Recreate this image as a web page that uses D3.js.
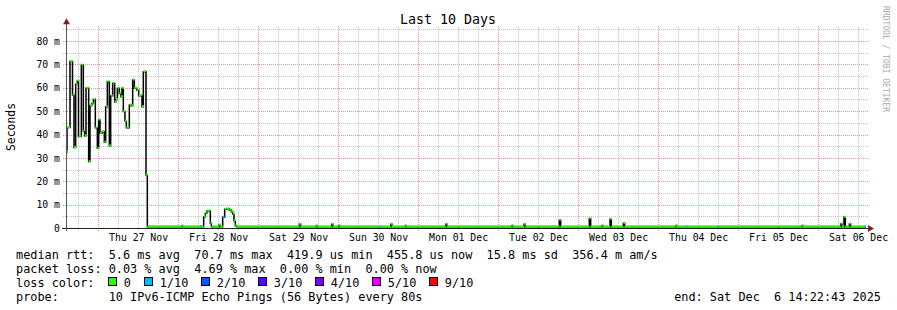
<!DOCTYPE html>
<html>
<head>
<meta charset="utf-8">
<script src="https://cdn.jsdelivr.net/npm/d3@7"></script>
<style>
  body { margin: 0; background: #fff; }
  svg { display: block; font-family: "DejaVu Sans Mono", monospace; }
  text { white-space: pre; }
</style>
</head>
<body>
<div class="chart"></div>
<script>
// time window: last 10 days, ending at the probe's last update
const endTime = new Date(2025, 11, 6, 14, 22, 43)
const spanHours = 240

// median rtt samples: hours since start of window, value in ms, loss in tenths
const sampleHours = [
    0.0, 0.3, 1.2, 1.95, 2.4, 2.9, 3.4, 3.75, 4.6, 5.2, 5.6, 6.0, 6.8, 7.2, 7.7, 8.2,
    8.8, 9.4, 9.8, 10.2, 10.8, 11.5, 11.9, 12.4, 13.0, 13.4, 14.0, 14.6, 15.0, 15.4,
    16.0, 16.5, 16.8, 17.2, 17.7, 18.1, 19.0, 19.6, 20.0, 20.5, 21.2, 21.8, 22.8,
    23.2, 24.0, 24.4,
    34.7, 35.0, 40.2, 40.6, 41.3, 41.8, 42.3, 43.3, 43.6, 45.9, 46.3, 47.0, 47.6,
    48.2, 49.0, 49.6, 50.0, 50.4, 50.8, 51.2,
    70.0, 70.4, 75.0, 75.4, 79.7, 80.1, 81.7, 82.1, 94.2, 94.6, 97.4, 97.8,
    101.7, 102.1, 113.9, 114.3, 133.7, 134.1, 137.4, 137.8, 148.0, 148.4,
    157.0, 157.4, 160.7, 161.1, 163.2, 163.6, 167.2, 167.6, 182.9, 183.3,
    186.0, 186.4, 195.5, 195.9, 220.7, 221.1, 232.4, 232.8, 233.4, 233.8,
    235.0, 235.4, 239.4
]
const medianMs = [
    32.5, 43.0, 71.2, 56.9, 34.4, 61.5, 62.9, 39.1, 69.7, 41.5, 39.5, 59.8, 28.4, 52.3, 53.3, 55.0,
    42.9, 34.1, 46.2, 40.5, 41.2, 36.7, 51.9, 62.6, 35.2, 56.6, 61.9, 54.0, 55.0, 59.8,
    57.6, 56.2, 59.8, 49.8, 45.8, 42.9, 52.6, 52.3, 63.3, 59.8, 59.0, 56.6, 51.9,
    66.9, 22.7, 0.5,
    0.9, 0.5, 0.6, 0.5, 4.8, 6.3, 7.3, 2.0, 0.5, 1.3, 0.5, 4.6, 8.0,
    8.2, 7.7, 7.0, 6.0, 3.1, 1.0, 0.5,
    1.6, 0.5, 1.0, 0.5, 1.6, 0.5, 1.0, 0.5, 0.5, 0.5, 1.6, 0.5,
    1.0, 0.5, 1.6, 0.5, 1.0, 0.5, 1.6, 0.5, 3.3, 0.5,
    4.0, 0.5, 1.0, 0.5, 3.7, 0.5, 2.0, 0.5, 1.0, 0.5,
    0.5, 0.5, 0.5, 0.5, 1.0, 0.5, 1.7, 0.5, 4.6, 0.5,
    1.7, 0.5, 0.5
]
const lossTenths = [
    0, 0, 0, 0, 0, 0, 0, 0, 0, 0, 0, 0, 0, 0, 0, 0,
    0, 0, 0, 0, 0, 0, 0, 0, 0, 0, 0, 0, 0, 0,
    0, 0, 0, 0, 0, 0, 0, 0, 0, 0, 0, 0, 0,
    0, 0, 0,
    0, 0, 1, 0, 0, 0, 0, 0, 0, 0, 0, 1, 0,
    0, 0, 0, 0, 0, 0, 0,
    0, 0, 0, 0, 0, 0, 0, 0, 1, 0, 0, 0,
    0, 0, 0, 0, 0, 0, 0, 0, 0, 0,
    0, 0, 0, 0, 0, 0, 0, 0, 0, 0,
    1, 0, 1, 0, 0, 0, 0, 0, 0, 0,
    0, 0, 1
]

const yTicks = [0, 10, 20, 30, 40, 50, 60, 70, 80]
const rttStats = ['5.6 ms avg', '70.7 ms max', '419.9 us min', '455.8 us now', '15.8 ms sd', '356.4 m am/s']
const lossStats = ['0.03 % avg', '4.69 % max', '0.00 % min', '0.00 % now']
const lossLevels = [0, 1, 2, 3, 4, 5, 9]
const lossLabels = ['0', '1/10', '2/10', '3/10', '4/10', '5/10', '9/10']
const lossColors = ['#26ff00', '#00b8ff', '#0059ff', '#5e00ff', '#7e00ff', '#dd00ff', '#ff0000']
const probeText = '10 IPv6-ICMP Echo Pings (56 Bytes) every 80s'
const endText = 'end: Sat Dec  6 14:22:43 2025'

const width = 897, height = 310
const plot = {left: 66, right: 866, bottom: 228, top: 26.3}
const legendFont = 11.85, charW = 7.1

const startTime = new Date(+endTime - spanHours * 3600e3)
const hourToDate = h => new Date(+startTime + h * 3600e3)
const lossColor = d3.scaleOrdinal().domain(lossLevels).range(lossColors)
const px = v => Math.round(v) + 0.5

const svg = d3.select('.chart')
    .append('svg')
    .attr('width', width)
    .attr('height', height)

svg.append('rect')
    .attr('width', width)
    .attr('height', height)
    .attr('fill', '#fff')

const x = d3.scaleTime()
    .domain([startTime, endTime])
    .range([plot.left, plot.right])
const y = d3.scaleLinear()
    .domain([0, 86.3])
    .range([plot.bottom, plot.top])

// grid, rrdtool style: grey dotted minor, red dotted major
const grid = svg.append('g')
    .attr('shape-rendering', 'crispEdges')
    .attr('stroke-dasharray', '1,1')
    .attr('fill', 'none')

const minorY = d3.range(5, y.domain()[1], 10)
grid.selectAll('.ymin').data(minorY).join('line')
    .attr('x1', plot.left - 3).attr('x2', plot.right + 2)
    .attr('y1', d => px(y(d))).attr('y2', d => px(y(d)))
    .attr('stroke', '#c4c4c4')

const hourTicks = x.ticks(d3.timeHour.every(6))
grid.selectAll('.xmin').data(hourTicks.filter(d => d.getHours() !== 0)).join('line')
    .attr('x1', d => px(x(d))).attr('x2', d => px(x(d)))
    .attr('y1', plot.bottom + 2).attr('y2', plot.top)
    .attr('stroke', '#c4c4c4')

grid.selectAll('.ymaj').data(yTicks.slice(1)).join('line')
    .attr('x1', plot.left - 3).attr('x2', plot.right + 2)
    .attr('y1', d => px(y(d))).attr('y2', d => px(y(d)))
    .attr('stroke', '#f09696')

const dayTicks = x.ticks(d3.timeDay.every(1))
grid.selectAll('.xmaj').data(dayTicks).join('line')
    .attr('x1', d => px(x(d))).attr('x2', d => px(x(d)))
    .attr('y1', plot.bottom + 3).attr('y2', plot.top)
    .attr('stroke', '#f09696')

// median line: black steps, coloured marks by loss
const pts = sampleHours.map((h, i) => ({t: hourToDate(h), v: medianMs[i], loss: lossTenths[i]}))
const stepLine = d3.line()
    .x(d => x(d.t))
    .y(d => y(d.v))
    .curve(d3.curveStepAfter)

svg.append('path')
    .attr('d', stepLine([...pts, {t: endTime, v: pts[pts.length - 1].v}]))
    .attr('fill', 'none')
    .attr('stroke', '#000')
    .attr('stroke-width', 1.5)

svg.append('g')
    .selectAll('line')
    .data(pts)
    .join('line')
        .attr('x1', d => x(d.t))
        .attr('x2', (d, i) => {
            const x2 = x(i < pts.length - 1 ? pts[i + 1].t : endTime)
            return Math.max(x2, x(d.t) + 2)
        })
        .attr('y1', d => y(d.v) - 0.5)
        .attr('y2', d => y(d.v) - 0.5)
        .attr('stroke', d => lossColor(d.loss))
        .attr('stroke-width', 2)

// axes
const axes = svg.append('g').attr('shape-rendering', 'crispEdges')
axes.append('line')
    .attr('x1', plot.left - 4).attr('x2', plot.right + 2)
    .attr('y1', px(plot.bottom)).attr('y2', px(plot.bottom))
    .attr('stroke', '#222')
axes.append('line')
    .attr('x1', px(plot.left)).attr('x2', px(plot.left))
    .attr('y1', plot.bottom + 3).attr('y2', plot.top - 2)
    .attr('stroke', '#555')

svg.append('path')
    .attr('d', `M${plot.right + 2},${plot.bottom - 3}L${plot.right + 8},${plot.bottom + 0.5}L${plot.right + 2},${plot.bottom + 4}Z`)
    .attr('fill', '#8b1c1c')
svg.append('path')
    .attr('d', `M${plot.left - 3},${plot.top - 2}L${plot.left + 0.5},${plot.top - 8}L${plot.left + 4},${plot.top - 2}Z`)
    .attr('fill', '#8b1c1c')

const yAxis = d3.axisLeft(y)
    .tickValues(yTicks)
    .tickSize(0)
    .tickPadding(6)
    .tickFormat(d => d === 0 ? '0' : d + ' m')
svg.append('g')
    .attr('transform', `translate(${plot.left}, 0)`)
    .call(yAxis)
    .call(g => g.select('.domain').remove())
    .call(g => g.selectAll('text').attr('font-family', '"DejaVu Sans Mono", monospace').attr('font-size', 9.8).attr('fill', '#000'))

const noonTicks = dayTicks.map(d => d3.timeHour.offset(d, 12)).filter(d => d <= endTime)
const xAxis = d3.axisBottom(x)
    .tickValues(noonTicks)
    .tickSize(0)
    .tickPadding(6)
    .tickFormat(d3.timeFormat('%a %d %b'))
svg.append('g')
    .attr('transform', `translate(0, ${plot.bottom})`)
    .call(xAxis)
    .call(g => g.select('.domain').remove())
    .call(g => g.selectAll('text').attr('font-family', '"DejaVu Sans Mono", monospace').attr('font-size', 9.8).attr('fill', '#000'))

// titles
svg.append('text')
    .attr('x', 448).attr('y', 24)
    .attr('text-anchor', 'middle')
    .attr('font-size', 13.3)
    .text('Last 10 Days')

svg.append('text')
    .attr('transform', 'translate(15, 127) rotate(-90)')
    .attr('text-anchor', 'middle')
    .attr('font-size', 11.4)
    .text('Seconds')

svg.append('text')
    .attr('transform', 'translate(883, 59) rotate(90)')
    .attr('text-anchor', 'middle')
    .attr('font-size', 8)
    .attr('fill', '#aaa')
    .text('RRDTOOL / TOBI OETIKER')

// legend
const legend = svg.append('g').attr('font-size', legendFont)
legend.append('text').attr('x', 16).attr('y', 259)
    .text('median rtt:  ' + rttStats.join('  '))
legend.append('text').attr('x', 16).attr('y', 272.5)
    .text('packet loss: ' + lossStats.join('  '))
legend.append('text').attr('x', 16).attr('y', 286.5)
    .text('loss color:')

let lx = 16 + 13 * charW
lossLabels.forEach((label, i) => {
    legend.append('rect')
        .attr('x', Math.round(lx) + 0.5).attr('y', 277.5)
        .attr('width', 8).attr('height', 8)
        .attr('fill', lossColors[i])
        .attr('stroke', '#000')
        .attr('shape-rendering', 'crispEdges')
    legend.append('text').attr('x', lx + 15.5).attr('y', 286.5).text(label)
    lx += 15 + (label.length + 2) * 7.0
})

legend.append('text').attr('x', 16).attr('y', 300.5)
    .text('probe:       ' + probeText)
legend.append('text').attr('x', 881).attr('y', 300.5)
    .attr('text-anchor', 'end')
    .text(endText)
</script>
</body>
</html>
